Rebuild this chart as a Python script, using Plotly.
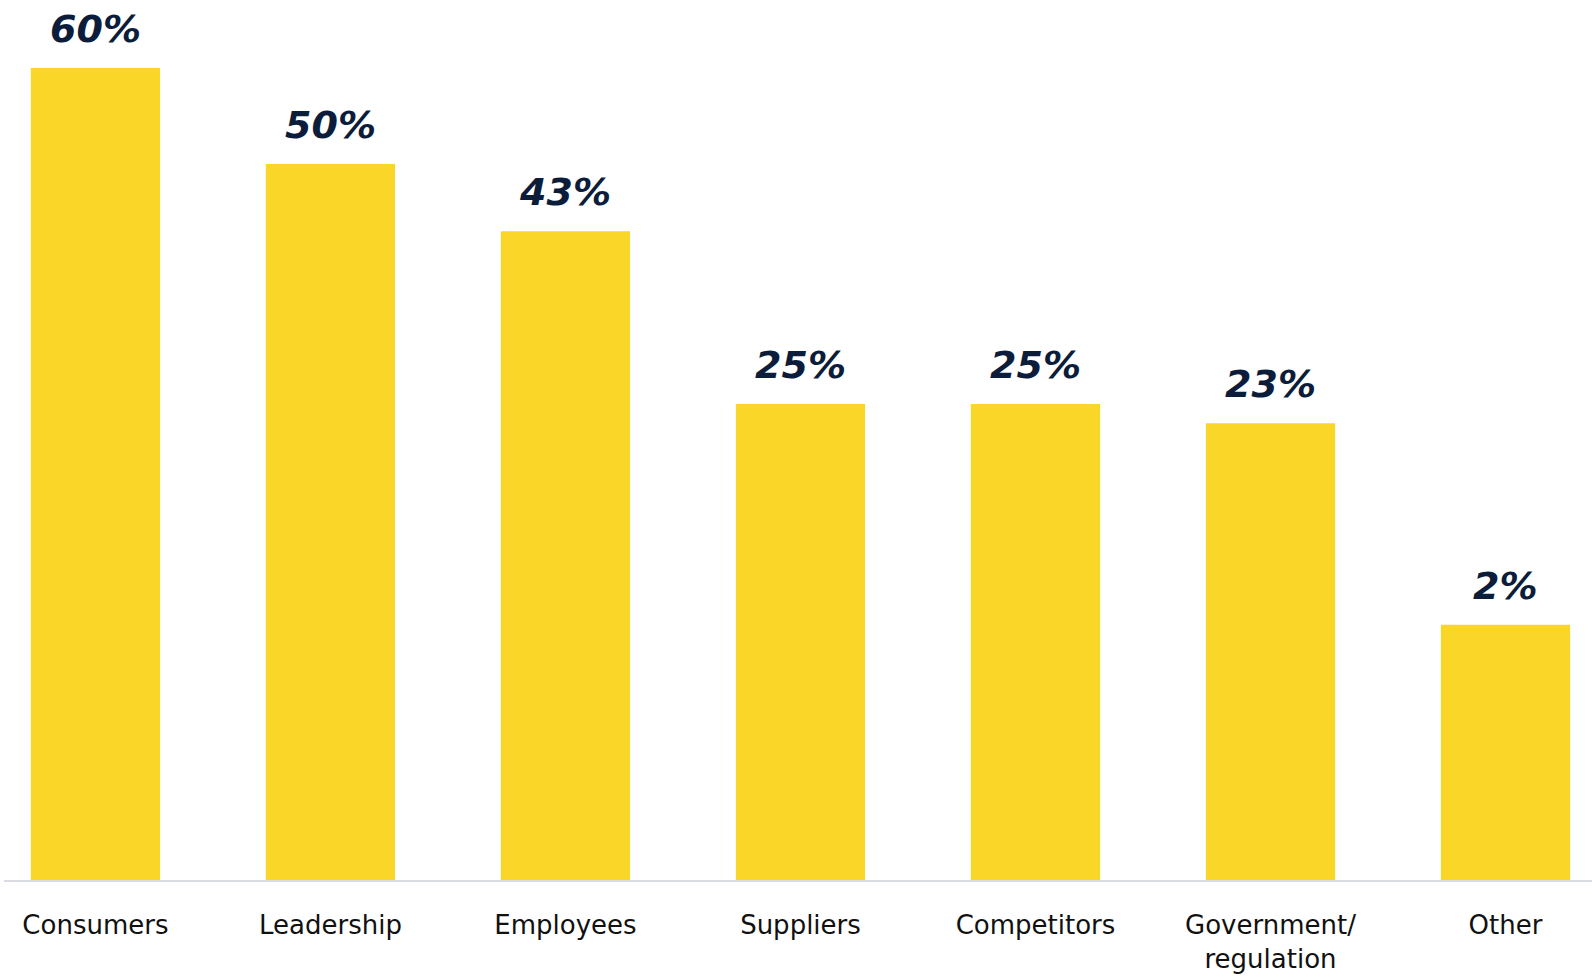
import plotly.graph_objects as go

categories = ["Consumers", "Leadership", "Employees", "Suppliers",
              "Competitors", "Government/<br>regulation", "Other"]
values = [60, 50, 43, 25, 25, 23, 2]
value_labels = [f"{v}%" for v in values]

# Axis floor sits below zero, so bars are drawn from the floor up to each value
y_floor = -24.58
y_top = 67.08

bar_color = "#F9D627"
label_color = "#0B1D3A"

fig = go.Figure()
fig.add_trace(go.Bar(
    x=categories,
    y=[v - y_floor for v in values],
    base=y_floor,
    marker=dict(color=bar_color, line=dict(width=0)),
    hoverinfo="skip",
))

for cat, v, lab in zip(categories, values, value_labels):
    fig.add_annotation(
        x=cat, y=v, text=lab, showarrow=False,
        yanchor="bottom", yshift=15,
        font=dict(family="DejaVu Sans", size=38, color=label_color,
                  weight="bold", style="italic"),
    )

fig.update_layout(
    width=1592, height=977,
    margin=dict(l=4, r=0, t=0, b=97),
    paper_bgcolor="white", plot_bgcolor="white",
    bargap=0.45,
    showlegend=False,
    xaxis=dict(
        range=[-0.389, 6.368],
        showline=True, linecolor="#D9DDE3", linewidth=2,
        showgrid=False, zeroline=False, ticks="",
        tickfont=dict(family="DejaVu Sans", size=26, color="#111111"),
        ticklabelstandoff=21,
    ),
    yaxis=dict(
        range=[y_floor, y_top],
        showgrid=False, zeroline=False, showticklabels=False,
        showline=False,
    ),
)

fig.write_html("out.html")
